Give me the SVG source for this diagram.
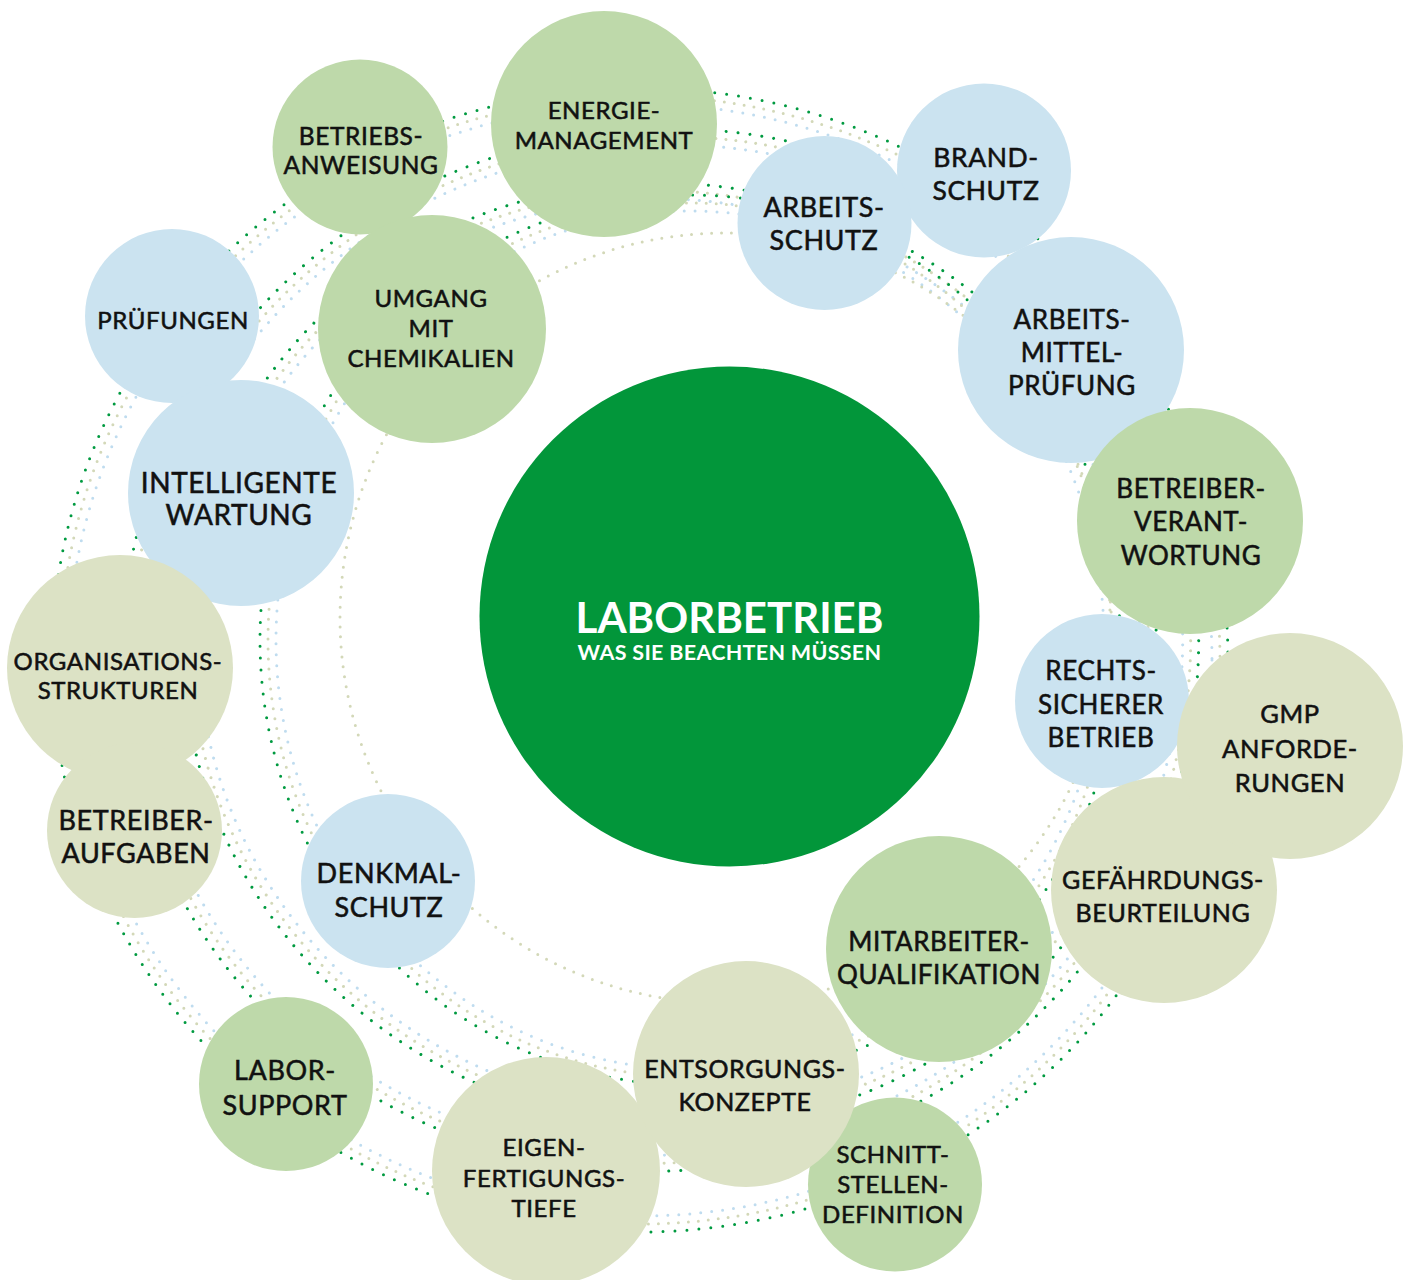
<svg xmlns="http://www.w3.org/2000/svg" width="1407" height="1280" viewBox="0 0 1407 1280">
<style>
.dg{fill:none;stroke:#009a40;stroke-width:3;stroke-linecap:round;stroke-dasharray:0 12}
.dy{fill:none;stroke:#d3d8b8;stroke-width:3;stroke-linecap:round;stroke-dasharray:0 10}
.db{fill:none;stroke:#bfdcef;stroke-width:3;stroke-linecap:round;stroke-dasharray:0 11}
.g{fill:#bed9aa}
.b{fill:#cbe3f0}
.y{fill:#dce2c5}
text{font-family:Lato,'Liberation Sans',sans-serif;fill:#111;text-anchor:middle;stroke:#111;stroke-width:0.55;letter-spacing:0.6px}
</style>
<rect width="1407" height="1280" fill="#fff"/>
<g id="connectors">
<ellipse class="dg" cx="640" cy="660" rx="588" ry="572"/>
<ellipse class="dy" cx="640" cy="660" rx="580" ry="564"/>
<ellipse class="db" cx="640" cy="660" rx="572" ry="556"/>
<ellipse class="dg" cx="660" cy="650" rx="540" ry="520" transform="rotate(-15 660 650)"/>
<ellipse class="dy" cx="660" cy="650" rx="532" ry="512" transform="rotate(-15 660 650)"/>
<ellipse class="db" cx="660" cy="650" rx="524" ry="504" transform="rotate(-15 660 650)"/>
<ellipse class="dg" cx="670" cy="655" rx="490" ry="470" transform="rotate(20 670 655)"/>
<ellipse class="dy" cx="670" cy="655" rx="482" ry="462" transform="rotate(20 670 655)"/>
<ellipse class="db" cx="670" cy="655" rx="474" ry="454" transform="rotate(20 670 655)"/>
<ellipse class="dg" cx="690" cy="640" rx="430" ry="445"/>
<ellipse class="dy" cx="690" cy="640" rx="422" ry="437"/>
<ellipse class="db" cx="690" cy="640" rx="414" ry="429"/>
<circle class="dy" cx="725" cy="618" r="385"/>
</g>
<g id="n-pruefungen"><circle class="b" cx="172" cy="316" r="87"/><text font-size="24" x="173" y="329">PRÜFUNGEN</text></g>
<g id="n-intelligente"><circle class="b" cx="241" cy="493" r="113"/><text font-size="28"><tspan x="239" y="493">INTELLIGENTE</tspan><tspan x="239" y="525">WARTUNG</tspan></text></g>
<g id="n-denkmal"><circle class="b" cx="388" cy="881" r="87"/><text font-size="27"><tspan x="389" y="883">DENKMAL-</tspan><tspan x="389" y="917">SCHUTZ</tspan></text></g>
<g id="n-rechts"><circle class="b" cx="1102" cy="701" r="87"/><text font-size="26"><tspan x="1101" y="680">RECHTS-</tspan><tspan x="1101" y="714">SICHERER</tspan><tspan x="1101" y="747">BETRIEB</tspan></text></g>
<g id="n-amp"><circle class="b" cx="1071" cy="350" r="113"/><text font-size="26"><tspan x="1072" y="329">ARBEITS-</tspan><tspan x="1072" y="362">MITTEL-</tspan><tspan x="1072" y="395">PRÜFUNG</tspan></text></g>
<g id="n-brand"><circle class="b" cx="984" cy="170.5" r="87"/><text font-size="26.5"><tspan x="986" y="167">BRAND-</tspan><tspan x="986" y="200">SCHUTZ</tspan></text></g>
<g id="n-arbeitsschutz"><circle class="b" cx="824.5" cy="223" r="87"/><text font-size="27"><tspan x="824" y="217">ARBEITS-</tspan><tspan x="824" y="250">SCHUTZ</tspan></text></g>
<g id="n-energie"><circle class="g" cx="604" cy="124" r="113"/><text font-size="24"><tspan x="604" y="119">ENERGIE-</tspan><tspan x="604" y="149">MANAGEMENT</tspan></text></g>
<g id="n-betriebsanweisung"><circle class="g" cx="360" cy="147" r="87.5"/><text font-size="24.5"><tspan x="361" y="145">BETRIEBS-</tspan><tspan x="361" y="174">ANWEISUNG</tspan></text></g>
<g id="n-umgang"><circle class="g" cx="432" cy="329" r="114"/><text font-size="24"><tspan x="431" y="307">UMGANG</tspan><tspan x="431" y="337">MIT</tspan><tspan x="431" y="367">CHEMIKALIEN</tspan></text></g>
<g id="n-labor"><circle class="g" cx="286" cy="1084" r="87"/><text font-size="27"><tspan x="285" y="1080">LABOR-</tspan><tspan x="285" y="1115">SUPPORT</tspan></text></g>
<g id="n-schnitt"><circle class="g" cx="895" cy="1184.5" r="87"/><text font-size="24"><tspan x="893" y="1163">SCHNITT-</tspan><tspan x="893" y="1193">STELLEN-</tspan><tspan x="893" y="1223">DEFINITION</tspan></text></g>
<g id="n-mitarbeiter"><circle class="g" cx="939" cy="949" r="113"/><text font-size="26"><tspan x="939" y="951">MITARBEITER-</tspan><tspan x="939" y="984">QUALIFIKATION</tspan></text></g>
<g id="n-betreiberverantwortung"><circle class="g" cx="1190" cy="521" r="113"/><text font-size="26"><tspan x="1191" y="498">BETREIBER-</tspan><tspan x="1191" y="531">VERANT-</tspan><tspan x="1191" y="565">WORTUNG</tspan></text></g>
<g id="n-org"><circle class="y" cx="120" cy="668" r="113"/><text font-size="24"><tspan x="118" y="670">ORGANISATIONS-</tspan><tspan x="118" y="699">STRUKTUREN</tspan></text></g>
<g id="n-betreiberaufgaben"><circle class="y" cx="134.5" cy="830.5" r="87.5"/><text font-size="27"><tspan x="136" y="830">BETREIBER-</tspan><tspan x="136" y="863">AUFGABEN</tspan></text></g>
<g id="n-eigen"><circle class="y" cx="546" cy="1171" r="114"/><text font-size="24"><tspan x="544" y="1156">EIGEN-</tspan><tspan x="544" y="1187">FERTIGUNGS-</tspan><tspan x="544" y="1217">TIEFE</tspan></text></g>
<g id="n-entsorgung"><circle class="y" cx="746" cy="1074" r="113"/><text font-size="25"><tspan x="745" y="1078">ENTSORGUNGS-</tspan><tspan x="745" y="1111">KONZEPTE</tspan></text></g>
<g id="n-gef"><circle class="y" cx="1164" cy="890" r="113"/><text font-size="25"><tspan x="1163" y="889">GEFÄHRDUNGS-</tspan><tspan x="1163" y="922">BEURTEILUNG</tspan></text></g>
<g id="n-gmp"><circle class="y" cx="1290" cy="746" r="113"/><text font-size="25.5"><tspan x="1290" y="723">GMP</tspan><tspan x="1290" y="758">ANFORDE-</tspan><tspan x="1290" y="792">RUNGEN</tspan></text></g>
<g id="n-center"><circle cx="729.5" cy="616.5" r="250" fill="#02963a"/><text font-weight="bold" style="fill:#fff;stroke:none;letter-spacing:0"><tspan x="729.5" y="633" font-size="42">LABORBETRIEB</tspan><tspan x="729.5" y="660" font-size="21.5" style="letter-spacing:0.3px">WAS SIE BEACHTEN MÜSSEN</tspan></text></g>
</svg>
